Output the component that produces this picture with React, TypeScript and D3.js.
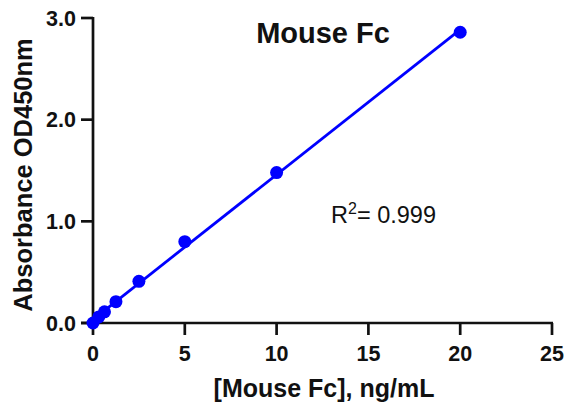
import React from "react";
import * as d3 from "d3";

const concentrations = [0, 0.3125, 0.625, 1.25, 2.5, 5, 10, 20];
const absorbance = [0.0, 0.06, 0.11, 0.21, 0.41, 0.8, 1.48, 2.86];
const xTicks = [0, 5, 10, 15, 20, 25];
const yTicks = [0, 1, 2, 3];
const title = "Mouse Fc";
const xLabel = "[Mouse Fc], ng/mL";
const yLabel = "Absorbance OD450nm";

export default function App() {
  const W = 566, H = 404;
  const x = d3.scaleLinear().domain([0, 25]).range([93, 552]);
  const y = d3.scaleLinear().domain([0, 3]).range([323, 18]);
  const n = concentrations.length;
  const mx = d3.mean(concentrations)!;
  const my = d3.mean(absorbance)!;
  let sxy = 0, sxx = 0;
  for (let i = 0; i < n; i++) {
    sxy += (concentrations[i] - mx) * (absorbance[i] - my);
    sxx += (concentrations[i] - mx) ** 2;
  }
  const slope = sxy / sxx;
  const intercept = my - slope * mx;
  const fit = d3.line<number>().x((d) => x(d)).y((d) => y(intercept + slope * d));
  const font = "'Liberation Sans', Arial, sans-serif";
  const axisColor = "#111";
  return (
    <svg width={W} height={H} style={{ position: "absolute", left: 0, top: 0 }} fontFamily={font}>
      <rect width={W} height={H} fill="#fff" />
      <line x1={x(0)} x2={x(0)} y1={y(3) - 1} y2={y(0)} stroke={axisColor} strokeWidth={2.7} />
      <line x1={x(0) - 12} x2={x(25) + 1} y1={y(0)} y2={y(0)} stroke={axisColor} strokeWidth={2.7} />
      {yTicks.map((t) => (
        <g key={"y" + t}>
          <line x1={x(0) - 12} x2={x(0)} y1={y(t)} y2={y(t)} stroke={axisColor} strokeWidth={2.7} />
          <text x={x(0) - 17} y={y(t)} dy="0.36em" textAnchor="end" fontSize={21.5} fontWeight="bold" fill="#111">
            {t.toFixed(1)}
          </text>
        </g>
      ))}
      {xTicks.map((t) => (
        <g key={"x" + t}>
          <line x1={x(t)} x2={x(t)} y1={y(0)} y2={y(0) + 12} stroke={axisColor} strokeWidth={2.7} />
          <text x={x(t)} y={y(0) + 38} textAnchor="middle" fontSize={21.5} fontWeight="bold" fill="#111">
            {t}
          </text>
        </g>
      ))}
      <path d={fit([0, 20]) || ""} stroke="#0000ff" strokeWidth={2.8} fill="none" />
      {concentrations.map((c, i) => (
        <circle key={i} cx={x(c)} cy={y(absorbance[i])} r={6.5} fill="#0000ff" />
      ))}
      <text x={323} y={43} textAnchor="middle" fontSize={29} fontWeight="bold" fill="#111">
        {title}
      </text>
      <text x={331} y={223} fontSize={23.5} fill="#111">
        R<tspan dy={-9} fontSize={16}>2</tspan>
        <tspan dy={9}>= 0.999</tspan>
      </text>
      <text x={324} y={397} textAnchor="middle" fontSize={25} fontWeight="bold" fill="#111">
        {xLabel}
      </text>
      <text
        transform={`translate(32,175) rotate(-90)`}
        textAnchor="middle"
        fontSize={25.5}
        fontWeight="bold"
        fill="#111"
      >
        {yLabel}
      </text>
    </svg>
  );
}
